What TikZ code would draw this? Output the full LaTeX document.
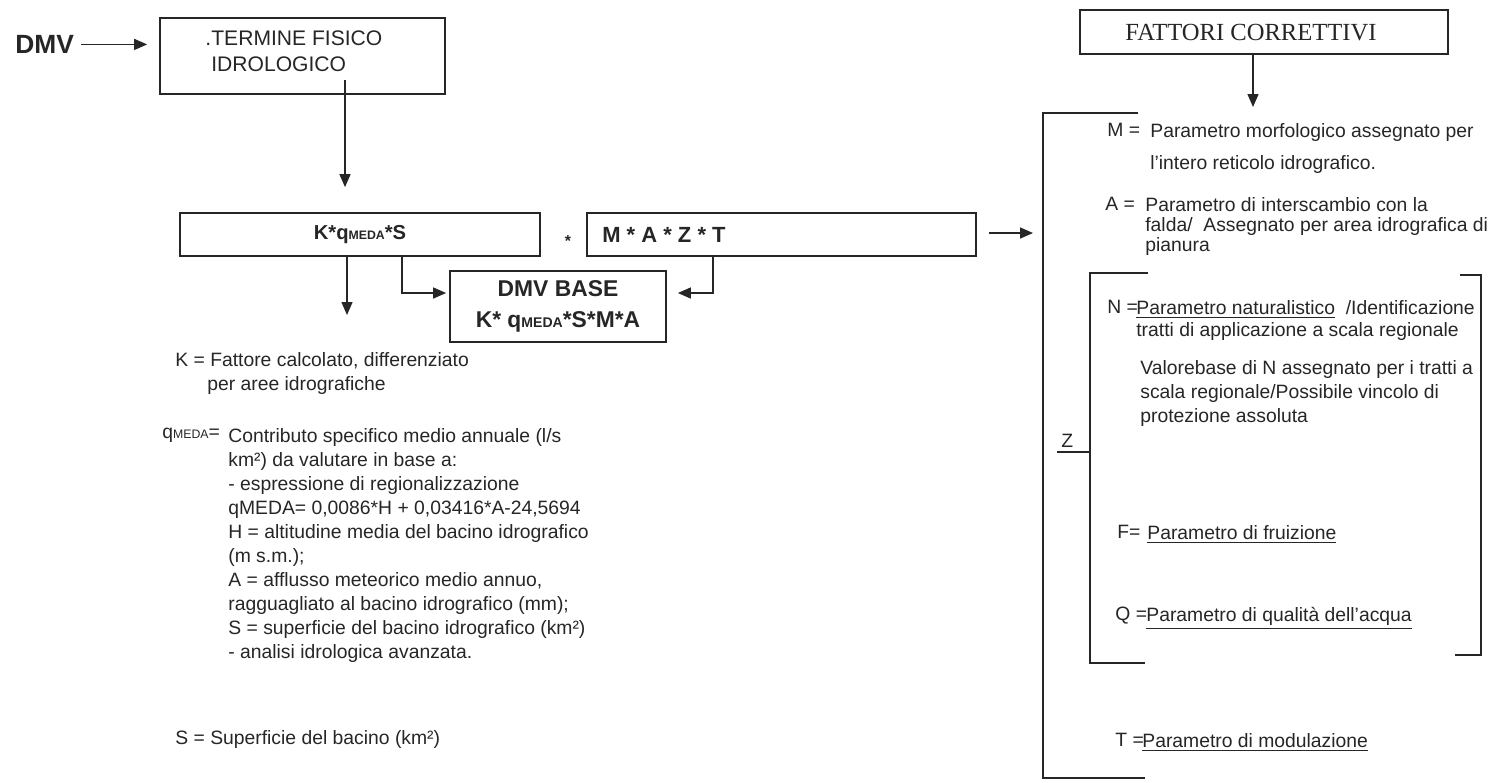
\documentclass[tikz,border=0pt]{standalone}
\usepackage{fontspec}
\setmainfont{Liberation Sans}
\newfontfamily\serifrm{Liberation Serif}
\usetikzlibrary{arrows.meta, positioning, calc}
\definecolor{inchiostro}{RGB}{38,38,38}
\newcommand{\qmed}[1][7]{q{\fontsize{#1}{#1}\selectfont MEDA}}

\begin{document}
\begin{tikzpicture}[x=0.02cm, y=-0.02cm, inchiostro, font=\fontsize{11}{13.66}\selectfont,
    riquadro/.style={draw=inchiostro, line width=1pt, inner sep=0pt},
    testo/.style={anchor=north west, inner sep=0pt, align=left},
    freccia/.style={draw=inchiostro, line width=0.8pt, -{Triangle[length=2.6mm, width=2.2mm]}},
    linea/.style={draw=inchiostro, line width=0.9pt}]
        \useasboundingbox (0,0) rectangle (1496,782);
        % colonna sinistra
        \node[testo, font=\fontsize{15}{15}\selectfont\bfseries] (dmv) at (15,35) {DMV};
        \node[riquadro, minimum width=5.7cm, minimum height=1.52cm] (term) at (302.5,56) {};
        \node[testo, font=\fontsize{12}{15.3}\selectfont] (termtxt) at (211,30)
            {\llap{.}TERMINE FISICO\\IDROLOGICO};
        \node[riquadro, minimum width=7.2cm, minimum height=0.86cm,
            font=\fontsize{11.5}{11.5}\selectfont\bfseries] (kqs) at (360,234.5) {K*\qmed*S};
        \node[font=\fontsize{9}{9}\selectfont\bfseries] (per) at (568,241) {*};
        \node[riquadro, minimum width=7.78cm, minimum height=0.86cm] (mazt) at (781.5,234.5) {};
        \node[testo, font=\fontsize{12.5}{12.5}\selectfont\bfseries] (maztxt) at (602,227) {M * A * Z * T};
        \node[riquadro, minimum width=4.32cm, minimum height=1.42cm, align=center,
            font=\fontsize{13}{18}\selectfont\bfseries] (base) at (558,306.5) {DMV BASE\\K* \qmed[8]*S*M*A};

        \coordinate (a1) at (345,78);
        \coordinate (kgiu) at (347,315);
        \coordinate (kbase) at (402,293);
        \coordinate (mbase) at (713,293);
        \coordinate (zsx) at (1043,233);
        \draw[freccia, shorten <=1.4mm, shorten >=2.4mm] (dmv.east) -- (dmv.east -| term.west);
        \draw[freccia, shorten <=1.4mm, shorten >=5mm] (termtxt.south -| a1) -- (kqs.north -| a1);
        \draw[freccia] (kqs.south -| kgiu) -- (kgiu);
        \draw[freccia, shorten >=0.6mm] (kqs.south -| kbase) |- (base.west |- kbase);
        \draw[freccia, shorten >=2.2mm] (mazt.south -| mbase) |- (base.east |- mbase);
        \draw[freccia, shorten <=2.4mm, shorten >=2mm] (mazt.east |- zsx) -- (zsx);

        \node[testo] (kdef) at (175,352)
            {K = Fattore calcolato, differenziato\\\hspace*{0.64cm}per aree idrografiche};
        \node[testo] (qlab) at (162,428) {\qmed=};
        \node[testo] (qdef) at (228,428)
            {Contributo specifico medio annuale (l/s\\
             km²) da valutare in base a:\\
             - espressione di regionalizzazione\\
             qMEDA= 0,0086*H + 0,03416*A-24,5694\\
             H = altitudine media del bacino idrografico\\
             (m s.m.);\\
             A = afflusso meteorico medio annuo,\\
             ragguagliato al bacino idrografico (mm);\\
             S = superficie del bacino idrografico (km²)\\
             - analisi idrologica avanzata.};
        \node[testo] (sdef) at (175,730) {S = Superficie del bacino (km²)};

        % fattori correttivi
        \node[riquadro, minimum width=7.36cm, minimum height=0.88cm] (fatt) at (1264,32) {};
        \node[font=\serifrm\fontsize{14}{14}\selectfont] (fatttxt) at (1251,33) {FATTORI CORRETTIVI};
        \coordinate (fgiu) at (1253,107);
        \draw[freccia] (fatt.south -| fgiu) -- (fgiu);

        \draw[linea] (1138,113) -- (1043,113) -- (1043,778) -- (1145,778);
        \draw[linea] (1148,273) -- (1090,273) -- (1090,663) -- (1145,663);
        \draw[linea] (1460,275) -- (1481,275) -- (1481,655) -- (1455,655);
        \node[testo] (zlab) at (1061,434) {Z};
        \draw[linea] (1057,452) -- (1090,452);

        \node[testo] (mlab) at (1107,123) {M =};
        \node[testo, font=\fontsize{11}{18.2}\selectfont] (mdef) at (1150,123)
            {Parametro morfologico assegnato per\\l'intero reticolo idrografico.};
        \node[testo] (alab) at (1105,197) {A =};
        \node[testo, font=\fontsize{11}{11.4}\selectfont] (adef) at (1145,197)
            {Parametro di interscambio con la\\falda/\ \ Assegnato per area idrografica di\\pianura};
        \node[testo] (nlab) at (1107,300) {N =};
        \node[testo, font=\fontsize{11}{12.5}\selectfont] (ndef) at (1136,300)
            {\underline{Parametro naturalistico}\ \ /Identificazione\\tratti di applicazione a scala regionale};
        \node[testo] (nval) at (1140,360)
            {Valorebase di N assegnato per i tratti a\\scala regionale/Possibile vincolo di\\protezione assoluta};
        \foreach \nome/\y/\lx/\lbl/\tx/\txt in {
            fru/525/1117/F=/1147/Parametro di fruizione,
            qua/607/1115/Q =/1146/Parametro di qualità dell'acqua,
            mod/733/1115/T =/1142/Parametro di modulazione}
        {
            \node[testo] (lab\nome) at (\lx,\y) {\lbl};
            \node[testo] (\nome) at (\tx,\y) {\underline{\txt}};
        }
    \end{tikzpicture}
\end{document}
